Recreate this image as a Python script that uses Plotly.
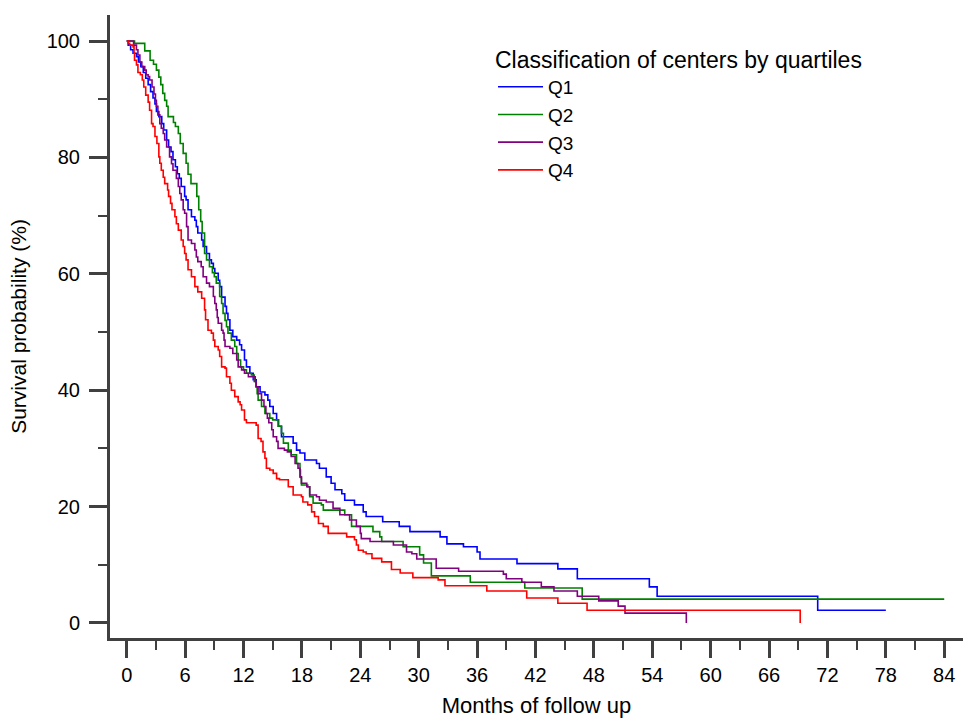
import plotly.graph_objects as go

# ---------------- data ----------------
q1_months = [0, 0.15, 0.4, 0.65, 1.0, 1.2, 1.45, 1.7, 1.95, 2.2, 2.45, 2.7, 2.9, 3.05, 3.3, 3.6, 3.8,
             4.1, 4.3, 4.55, 4.75, 5.0, 5.2, 5.4, 5.6, 5.95, 6.1, 6.3, 6.65, 7.0, 7.15, 7.3, 7.7, 7.85,
             8.2, 8.5, 8.7, 8.9, 9.05, 9.4, 9.55, 9.75, 10.1, 10.25, 10.4, 10.6, 10.9, 11.3, 11.6, 11.8,
             12.1, 12.3, 12.65, 13.0, 13.3, 13.7, 14.2, 14.5, 14.7, 15.05, 15.4, 15.6, 15.9, 17.1, 17.45,
             17.8, 18.3, 19.5, 19.8, 20.5, 21.0, 21.4, 22.1, 22.4, 23.4, 24.3, 24.6, 26.3, 28.0, 29.1,
             32.2, 32.9, 34.6, 36.0, 36.3, 40.1, 44.3, 46.3, 53.7, 54.5, 71.0, 78.0]
q1_surv = [100, 99.3, 98.5, 97.9, 97.3, 96.4, 95.6, 94.6, 93.6, 92.5, 91.3, 90.2, 89.2, 87.9, 87.0, 85.8, 84.7,
           83.0, 81.8, 81.0, 79.6, 78.4, 77.2, 76.4, 75.0, 73.3, 72.7, 71.0, 69.8, 69.2, 68.1, 67.0, 65.8, 64.7,
           63.5, 62.4, 61.8, 60.9, 60.1, 58.9, 57.8, 56.0, 54.4, 53.2, 52.1, 50.3, 49.2, 48.6, 47.8, 46.9,
           45.2, 44.0, 42.9, 41.8, 40.6, 39.7, 39.2, 38.3, 37.2, 36.0, 34.9, 33.8, 32.0, 30.9, 29.7,
           29.2, 28.0, 27.4, 26.6, 25.1, 24.0, 22.9, 22.2, 21.1, 20.3, 19.1, 18.3, 17.4, 16.6, 15.7,
           14.8, 13.6, 13.1, 12.2, 11.0, 10.2, 9.3, 7.6, 6.2, 4.6, 2.2, 2.2]

q2_months = [0, 0.8, 1.85, 2.4, 2.75, 3.05, 3.3, 3.5, 3.7, 3.9, 4.1, 4.25, 4.8, 5.0, 5.3, 5.5, 5.8, 6.1,
             6.3, 6.6, 7.2, 7.4, 7.6, 7.75, 8.0, 8.2, 8.5, 8.8, 9.0, 9.2, 9.55, 9.75, 9.9, 10.1, 10.25,
             10.4, 10.75, 11.1, 11.3, 11.45, 11.7, 12.0, 12.3, 12.8, 13.1, 13.3, 13.4, 13.5, 13.85, 14.2,
             14.7, 15.0, 15.55, 15.9, 16.1, 16.6, 16.9, 17.45, 17.8, 17.85, 17.95, 18.6, 18.8, 19.15, 20.0,
             20.2, 22.4, 23.1, 25.3, 26.0, 26.2, 28.4, 30.1, 30.5, 31.3, 35.3, 40.9, 46.8, 84.0]
q2_surv = [100, 99.6, 98.3, 96.7, 96.0, 95.0, 93.8, 92.5, 91.0, 89.8, 88.8, 87.0, 86.0, 85.3, 84.1, 82.4, 80.7, 79.0,
           77.1, 75.5, 73.3, 71.0, 69.0, 67.0, 63.5, 62.4, 61.2, 60.2, 59.5, 58.4, 56.1, 54.9, 53.2, 52.0, 50.9,
           49.8, 48.6, 47.5, 46.3, 45.2, 44.0, 43.5, 42.9, 42.6, 41.5, 40.6, 39.4, 38.3, 37.2, 36.0,
           35.2, 34.9, 33.8, 32.6, 30.9, 29.7, 28.9, 27.4, 26.3, 25.0, 23.7, 23.4, 21.7, 20.6, 20.3,
           19.4, 18.6, 16.6, 15.7, 14.8, 14.0, 13.1, 11.7, 10.3, 8.1, 7.0, 6.0, 4.1, 4.1]

q3_months = [0, 0.7, 1.0, 1.15, 1.35, 1.55, 1.85, 2.0, 2.2, 2.35, 2.6, 2.8, 2.95, 3.05, 3.2, 3.4, 3.55, 3.75,
             3.9, 4.1, 4.4, 4.6, 4.75, 5.1, 5.3, 5.45, 5.6, 5.8, 5.95, 6.15, 6.3, 6.65, 7.0, 7.15, 7.3, 7.65,
             7.85, 8.2, 8.5, 8.9, 9.05, 9.2, 9.3, 9.4, 9.75, 9.9, 10.0, 10.1, 10.6, 10.9, 11.3, 11.45, 11.8,
             12.1, 12.5, 13.2, 13.3, 13.5, 13.85, 14.1, 14.3, 14.45, 14.6, 14.9, 15.05, 15.4, 15.55, 16.2,
             16.5, 16.9, 17.3, 17.6, 17.8, 17.95, 18.5, 18.8, 19.5, 19.8, 20.5, 21.2, 21.9, 22.9, 23.6,
             24.0, 24.1, 25.0, 27.4, 28.75, 29.3, 29.8, 31.8, 34.1, 38.7, 39.0, 40.6, 42.6, 43.9, 46.3,
             48.5, 50.5, 51.2, 57.5]
q3_surv = [100, 99.3, 98.5, 97.6, 96.4, 95.6, 95.0, 94.2, 93.9, 93.3, 92.1, 90.9, 89.8, 88.8, 87.3, 85.8, 85.0, 84.1,
           83.0, 81.8, 80.1, 78.9, 77.8, 76.4, 75.0, 73.8, 72.7, 71.0, 70.4, 68.1, 65.8, 65.2, 64.1, 62.9, 62.1, 61.2,
           59.5, 58.4, 57.8, 56.1, 54.9, 53.8, 52.5, 51.5, 50.3, 49.8, 48.6, 47.5, 47.2, 46.3, 45.2, 44.0, 43.5,
           42.9, 42.3, 41.5, 40.6, 39.4, 38.3, 37.2, 36.0, 35.2, 34.4, 33.2, 32.0, 31.2, 30.0, 29.7,
           29.4, 28.6, 27.4, 26.6, 25.1, 24.0, 23.4, 22.0, 21.7, 21.1, 20.8, 19.7, 18.6, 17.7, 16.6,
           15.4, 14.5, 14.0, 13.4, 12.2, 11.9, 11.0, 9.4, 8.9, 8.4, 7.6, 7.0, 6.2, 5.5, 4.6,
           3.8, 2.9, 1.7, 0.0]

q4_months = [0, 0.15, 0.3, 0.65, 0.75, 0.8, 1.0, 1.15, 1.4, 1.6, 1.75, 1.95, 2.2, 2.35, 2.55, 2.7, 2.9, 3.1,
             3.3, 3.4, 3.55, 3.75, 3.9, 4.2, 4.3, 4.5, 4.65, 4.95, 5.1, 5.3, 5.6, 5.8, 5.95, 6.1, 6.3, 6.65,
             7.0, 7.3, 7.7, 8.0, 8.1, 8.35, 8.7, 8.9, 9.05, 9.4, 9.55, 9.75, 10.1, 10.25, 10.6, 10.75, 11.1,
             11.45, 11.65, 11.8, 12.1, 12.3, 13.3, 13.5, 13.8, 14.0, 14.2, 14.35, 14.7, 15.05, 15.4, 15.7,
             16.6, 17.1, 17.95, 18.1, 18.6, 19.0, 19.3, 19.7, 20.2, 20.7, 22.6, 23.4, 23.6, 23.8, 24.3,
             24.6, 25.2, 26.2, 27.2, 28.1, 29.4, 32.0, 32.7, 37.0, 41.1, 44.3, 47.3, 69.2]
q4_surv = [100, 99.6, 99.3, 99.0, 97.9, 96.7, 95.9, 94.6, 94.2, 93.3, 92.1, 90.7, 89.5, 88.1, 85.8, 85.3, 83.6, 82.4,
           80.1, 79.0, 77.8, 76.6, 75.5, 74.4, 73.3, 72.1, 71.0, 69.8, 68.6, 67.5, 65.8, 64.7, 63.5, 62.4, 60.7, 59.5,
           57.8, 56.9, 55.8, 53.8, 52.1, 50.3, 49.8, 48.6, 47.5, 46.9, 45.8, 44.0, 43.8, 42.3, 41.2, 40.0, 38.9,
           38.0, 37.5, 36.6, 34.9, 34.4, 34.0, 31.7, 31.2, 29.4, 28.3, 26.6, 26.3, 25.7, 24.8, 24.6,
           23.4, 22.0, 21.7, 20.8, 20.3, 19.1, 18.3, 17.1, 16.6, 15.4, 14.8, 14.3, 13.4, 12.5, 12.2,
           11.9, 11.1, 10.5, 9.2, 8.6, 7.8, 7.4, 6.4, 5.5, 4.3, 3.4, 2.2, 0.0]

series_names = ["Q1", "Q2", "Q3", "Q4"]
series_months = [q1_months, q2_months, q3_months, q4_months]
series_surv = [q1_surv, q2_surv, q3_surv, q4_surv]
series_colors = ["#0000FF", "#008000", "#800080", "#FF0000"]

x_tickvals = [0, 6, 12, 18, 24, 30, 36, 42, 48, 54, 60, 66, 72, 78, 84]
y_tickvals = [0, 20, 40, 60, 80, 100]

# ---------------- figure ----------------
fig = go.Figure()
for name, xs, ys, col in zip(series_names, series_months, series_surv, series_colors):
    fig.add_trace(go.Scatter(x=xs, y=ys, mode="lines", name=name,
                             line=dict(color=col, width=1.6, shape="hv")))

axis_col = "#404040"
font_family = "Arial, Liberation Sans, sans-serif"

# plot area: x from 110 px to 963 px, y from 15 px to 638 px
fig.update_layout(
    width=963, height=718,
    margin=dict(l=110, r=0, t=15, b=80),
    paper_bgcolor="white", plot_bgcolor="white",
    font=dict(family=font_family, color="black", size=20),
    showlegend=True,
    legend=dict(
        x=(493 - 110) / 853, y=(638 - 38) / 623, xanchor="left", yanchor="top",
        bgcolor="rgba(0,0,0,0)", borderwidth=0,
        font=dict(size=19, family=font_family, color="black"),
        title=dict(text="Classification of centers by quartiles",
                   font=dict(size=23, family=font_family, color="black")),
        tracegroupgap=0, itemwidth=45,
    ),
    xaxis=dict(
        range=[-1.72, 85.93], tickmode="array", tickvals=x_tickvals,
        ticks="outside", ticklen=17, tickwidth=3, tickcolor=axis_col,
        showline=True, linewidth=3, linecolor=axis_col, mirror=False,
        showgrid=False, zeroline=False,
        tickfont=dict(size=20, family=font_family, color="black"),
        minor=dict(dtick=3, tick0=0, ticks="outside", ticklen=9, tickwidth=2, tickcolor=axis_col),
        title=dict(text="Months of follow up", standoff=17,
                   font=dict(size=22, family=font_family, color="black")),
    ),
    yaxis=dict(
        range=[-2.58, 104.47], tickmode="array", tickvals=y_tickvals,
        ticks="outside", ticklen=18, tickwidth=3, tickcolor=axis_col,
        showline=True, linewidth=3, linecolor=axis_col, mirror=False,
        showgrid=False, zeroline=False, ticklabelstandoff=5,
        tickfont=dict(size=20, family=font_family, color="black"),
        minor=dict(dtick=10, tick0=0, ticks="outside", ticklen=9, tickwidth=2, tickcolor=axis_col),
        title=dict(text="Survival probability (%)", standoff=15,
                   font=dict(size=21, family=font_family, color="black")),
    ),
)

fig.write_html("out.html", config={"displayModeBar": False},
               post_script="document.body.style.margin='0px';")
